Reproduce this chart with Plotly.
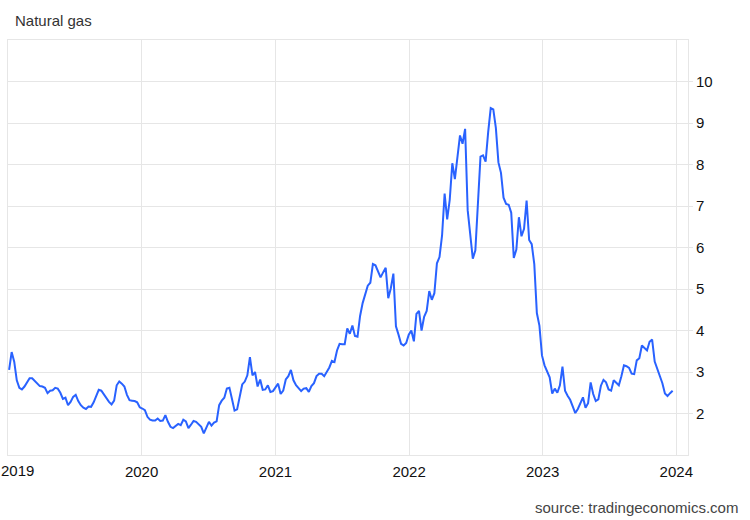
import pandas as pd
import plotly.graph_objects as go

start_date = "2019-01-04"
prices = [
    3.05, 3.48, 3.25, 2.80, 2.62, 2.58, 2.65, 2.75, 2.85, 2.85,
    2.78, 2.73, 2.66, 2.65, 2.62, 2.49, 2.55, 2.56, 2.62, 2.60,
    2.50, 2.35, 2.38, 2.20, 2.28, 2.40, 2.45, 2.30, 2.20, 2.14,
    2.11, 2.17, 2.16, 2.27, 2.42, 2.57, 2.55, 2.45, 2.36, 2.28,
    2.22, 2.31, 2.68, 2.77, 2.72, 2.65, 2.45, 2.32, 2.31, 2.30,
    2.27, 2.15, 2.12, 2.08, 1.92, 1.85, 1.83, 1.83, 1.88, 1.82,
    1.83, 1.96, 1.80, 1.68, 1.65, 1.70, 1.75, 1.72, 1.85, 1.81,
    1.65, 1.73, 1.82, 1.80, 1.73, 1.68, 1.52, 1.68, 1.80, 1.71,
    1.78, 1.81, 2.20, 2.31, 2.38, 2.60, 2.62, 2.35, 2.07, 2.10,
    2.38, 2.70, 2.77, 2.92, 3.36, 2.92, 3.00, 2.65, 2.82, 2.57,
    2.58, 2.68, 2.52, 2.54, 2.63, 2.72, 2.47, 2.55, 2.82, 2.90,
    3.05, 2.80, 2.68, 2.62, 2.54, 2.60, 2.61, 2.52, 2.66, 2.73,
    2.90, 2.96, 2.96, 2.90, 3.00, 3.11, 3.27, 3.24, 3.52, 3.68,
    3.67, 3.67, 4.05, 3.92, 4.12, 3.87, 3.85, 4.35, 4.66, 4.90,
    5.08, 5.15, 5.60, 5.57, 5.44, 5.28, 5.40, 5.51, 4.78, 5.02,
    5.37, 4.10, 3.90, 3.68, 3.64, 3.70, 3.90, 4.00, 3.74, 4.40,
    4.47, 4.00, 4.33, 4.47, 4.95, 4.74, 4.90, 5.62, 5.77, 6.29,
    7.30, 6.68, 7.15, 8.03, 7.65, 8.20, 8.70, 8.50, 8.86, 6.90,
    6.30, 5.73, 5.93, 7.00, 8.19, 8.22, 8.07, 8.78, 9.36, 9.33,
    8.88, 8.05, 7.80, 7.20, 7.05, 7.03, 6.84, 5.75, 5.95, 6.73,
    6.27, 6.45, 7.13, 6.18, 6.08, 5.60, 4.42, 4.12, 3.40, 3.16,
    3.03, 2.87, 2.48, 2.60, 2.50, 2.68, 3.13, 2.55, 2.43, 2.33,
    2.17, 2.01, 2.11, 2.25, 2.39, 2.14, 2.25, 2.75, 2.47, 2.30,
    2.34, 2.67, 2.81, 2.75, 2.58, 2.55, 2.80, 2.74, 2.68, 2.90,
    3.16, 3.14, 3.10, 2.96, 2.95, 3.28, 3.33, 3.64, 3.58, 3.52,
    3.73, 3.78, 3.25, 3.08, 2.92, 2.73, 2.48, 2.42, 2.49, 2.55,
]
dates = pd.date_range(start_date, periods=len(prices), freq="7D")
y_ticks = [2, 3, 4, 5, 6, 7, 8, 9, 10]
x_tick_dates = ["2019-01-01", "2020-01-01", "2021-01-01", "2022-01-01",
                "2023-01-01", "2024-01-01"]
x_tick_text = ["", "2020", "2021", "2022", "2023", "2024"]

FONT = "Liberation Sans, Arial, sans-serif"
GRID = "#e6e6e6"

W, H = 750, 520
ML, MR, MT, MB = 8, 62, 40, 65
PW, PH = W - ML - MR, H - MT - MB


def px_x(x):
    return (x - ML) / PW


def px_y(y):
    return (H - MB - y) / PH


fig = go.Figure(
    go.Scatter(
        x=dates, y=prices, mode="lines",
        line=dict(color="#2962ff", width=2),
        hoverinfo="skip",
    )
)

fig.update_layout(
    width=W, height=H,
    margin=dict(l=ML, r=MR, t=MT, b=MB),
    paper_bgcolor="white", plot_bgcolor="white",
    showlegend=False,
    font=dict(family=FONT, size=14, color="#222"),
    xaxis=dict(
        range=["2019-01-01", "2024-02-02"],
        tickvals=x_tick_dates, ticktext=x_tick_text,
        showgrid=True, gridcolor=GRID, gridwidth=1,
        showline=True, linecolor=GRID, linewidth=1, mirror=True,
        ticks="outside", ticklen=3, tickcolor="rgba(0,0,0,0)",
        zeroline=False, ticklabeloverflow="allow",
        tickfont=dict(size=15, color="#111"),
    ),
    yaxis=dict(
        side="right", range=[1, 11],
        tickvals=y_ticks,
        showgrid=True, gridcolor=GRID, gridwidth=1,
        showline=True, linecolor=GRID, linewidth=1, mirror=True,
        ticks="outside", ticklen=4, tickcolor=GRID,
        zeroline=False,
        tickfont=dict(size=15, color="#111"),
    ),
    annotations=[
        dict(text="Natural gas", x=px_x(13), y=px_y(20), xref="paper", yref="paper",
             showarrow=False, xanchor="left", yanchor="middle",
             font=dict(size=15, color="#333")),
        dict(text="2019", x=px_x(-1), y=px_y(470), xref="paper", yref="paper",
             showarrow=False, xanchor="left", yanchor="middle",
             font=dict(size=15, color="#111")),
        dict(text="source: tradingeconomics.com", x=px_x(740), y=px_y(507),
             xref="paper", yref="paper", showarrow=False,
             xanchor="right", yanchor="middle",
             font=dict(size=15, color="#444")),
    ],
)

fig.write_html(
    "out.html",
    config={"displayModeBar": False},
    post_script="document.body.style.margin='0';document.body.style.padding='0';",
)
